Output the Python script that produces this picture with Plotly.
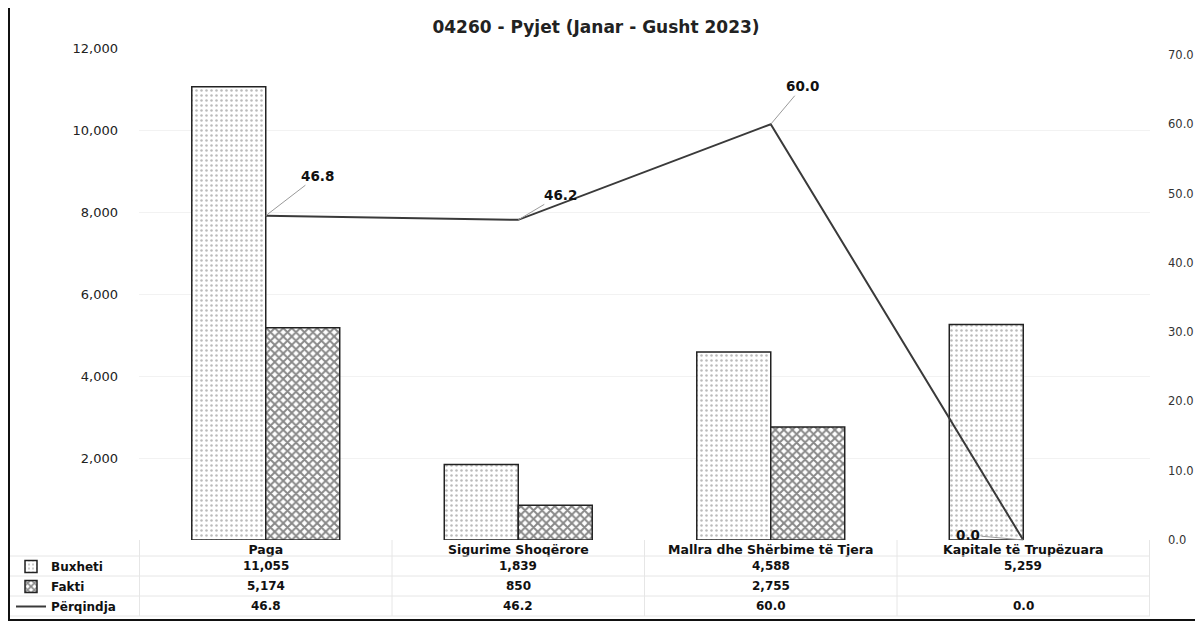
import plotly.graph_objects as go

categories = ["Paga", "Sigurime Shoqërore", "Mallra dhe Shërbime të Tjera", "Kapitale të Trupëzuara"]
buxheti = [11055, 1839, 4588, 5259]
fakti = [5174, 850, 2755, None]
perqindja = [46.8, 46.2, 60.0, 0.0]
left_ticks = [2000, 4000, 6000, 8000, 10000, 12000]
right_ticks = [0, 10, 20, 30, 40, 50, 60, 70]
title_text = "04260 - Pyjet (Janar - Gusht 2023)"
series_names = ["Buxheti", "Fakti", "Përqindja"]

FONT = "DejaVu Sans"
W, H = 1195, 615
ML, MT, MR, MB = 131, 40, 53, 83
PW, PH = W - ML - MR, H - MT - MB

def px(xs):  # figure pixel x -> paper
    return (xs - ML) / PW

def py(ys):  # figure pixel y -> paper
    return (MT + PH - ys) / PH

fig = go.Figure()

fig.add_trace(go.Bar(
    x=categories, y=buxheti, name=series_names[0], legendgroup="a",
    marker=dict(color="white", line=dict(color="#222", width=1.5),
                pattern=dict(shape=".", fgcolor="#777", bgcolor="white", size=5, solidity=0.2)),
))
fig.add_trace(go.Bar(
    x=categories, y=fakti, name=series_names[1], legendgroup="b",
    marker=dict(color="white", line=dict(color="#222", width=1.5),
                pattern=dict(shape="x", fgcolor="#111", bgcolor="white", size=6, solidity=0.55)),
))
fig.add_trace(go.Scatter(
    x=categories, y=perqindja, name=series_names[2], legendgroup="c", yaxis="y2",
    mode="lines", line=dict(color="#3a3a3a", width=2),
))

# data labels with leader lines
offsets = [(52, -40), (42, -25), (32, -38), (-55, -5)]
for c, v, (ax, ay) in zip(categories, perqindja, offsets):
    fig.add_annotation(x=c, y=v, xref="x", yref="y2", text=f"<b>{v:.1f}</b>",
                       showarrow=True, arrowhead=0, arrowwidth=1, arrowcolor="#9a9a9a",
                       ax=ax, ay=ay, standoff=0, font=dict(family=FONT, size=13.5, color="#111"))

# data table
row_px = [558, 578, 598]
rows = [
    [f"{v:,.0f}" if v is not None else "" for v in buxheti],
    [f"{v:,.0f}" if v is not None else "" for v in fakti],
    [f"{v:.1f}" for v in perqindja],
]
for rp, vals in zip(row_px, rows):
    for c, t in zip(categories, vals):
        fig.add_annotation(x=c, y=py(rp), xref="x", yref="paper", text=f"<b>{t}</b>",
                           xanchor="center", yanchor="middle",
                           showarrow=False, font=dict(family=FONT, size=12, color="#111"))

shapes = []
# table grid
for yy in [548, 568, 588, 608]:
    shapes.append(dict(type="line", xref="paper", yref="paper", x0=px(2), x1=1.0, y0=py(yy), y1=py(yy),
                       line=dict(color="#e6e6e6", width=1)))
for xx in [-0.5, 0.5, 1.5, 2.5, 3.5]:
    shapes.append(dict(type="line", xref="x", yref="paper", x0=xx, x1=xx, y0=0, y1=py(608),
                       line=dict(color="#e6e6e6", width=1)))
# chart border
shapes.append(dict(type="rect", xref="paper", yref="paper", x0=px(1), x1=px(1200), y0=py(612), y1=py(-2),
                   line=dict(color="#111", width=2), fillcolor="rgba(0,0,0,0)"))

fig.update_layout(
    width=W, height=H,
    margin=dict(l=ML, r=MR, t=MT, b=MB, autoexpand=False),
    paper_bgcolor="white", plot_bgcolor="white",
    font=dict(family=FONT, size=11, color="#222"),
    title=dict(text=f"<b>{title_text}</b>", x=588 / W, xref="container", y=1 - 19 / H, yref="container",
               xanchor="center", yanchor="middle", font=dict(family=FONT, size=17, color="#222")),
    barmode="group", bargap=0.414, bargroupgap=0,
    xaxis=dict(showgrid=False, showline=False, ticks="",
               tickfont=dict(family=FONT, size=12.5, color="#111", weight="bold"),
               ticklabelstandoff=0, automargin=False),
    yaxis=dict(range=[0, 12000], tickvals=left_ticks, tickformat=",", showgrid=True, gridcolor="#f2f2f2",
               zeroline=False, showline=False, ticklabelstandoff=20, automargin=False,
               tickfont=dict(family=FONT, size=13, color="#222")),
    yaxis2=dict(range=[0, 71], tickvals=right_ticks, tickformat=".1f", overlaying="y", side="right",
                showgrid=False, zeroline=False, showline=False, ticklabelstandoff=17, automargin=False,
                tickfont=dict(family=FONT, size=11.5, color="#333")),
    legend=dict(x=px(3), xanchor="left", y=py(544), yanchor="top", orientation="v",
                traceorder="grouped", tracegroupgap=1, bgcolor="rgba(0,0,0,0)",
                font=dict(family=FONT, size=12, color="#111", weight="bold"), itemwidth=30),
    showlegend=True,
    shapes=shapes,
)

fig.write_html("out.html")
